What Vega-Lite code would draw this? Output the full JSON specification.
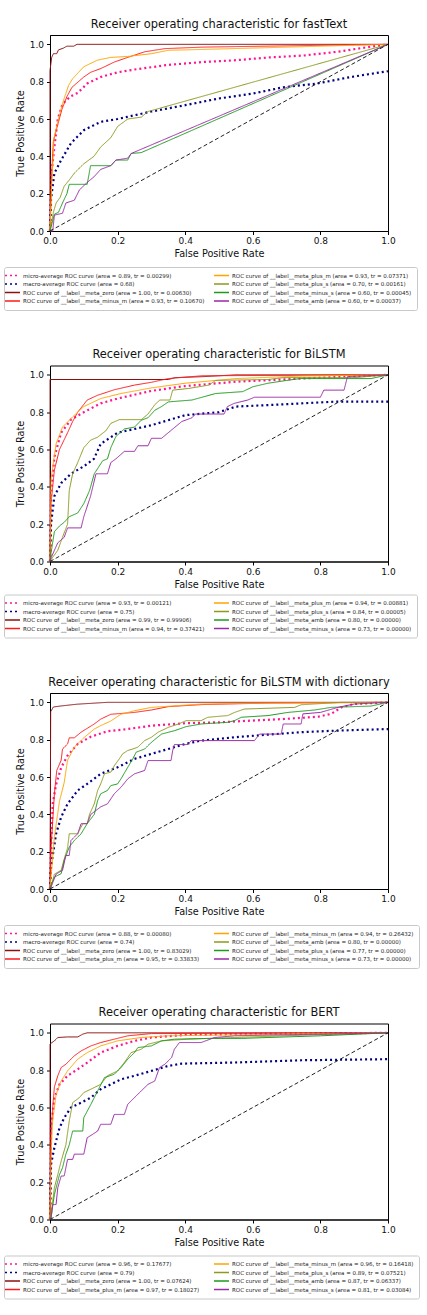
{
  "$schema": "https://vega.github.io/schema/vega-lite/v6.json",
  "padding": {"left": 3, "top": 18, "right": 5, "bottom": 5},
  "background": "white",
  "config": {
    "font": "DejaVu Sans",
    "view": {"stroke": "#000", "strokeWidth": 1},
    "axis": {"grid": false, "labelFlush": false, "domainColor": "#000", "tickColor": "#000", "tickSize": 3.5, "labelFontSize": 9, "labelColor": "#111", "titleFontSize": 9.7, "titleFontWeight": "normal", "titleColor": "#111", "labelFont": "DejaVu Sans", "titleFont": "DejaVu Sans"},
    "title": {"fontSize": 11.4, "fontWeight": "normal", "font": "DejaVu Sans", "color": "#111", "offset": 5},
    "legend": {"title": null, "columns": 2, "gridAlign": "all", "labelFont": "DejaVu Sans", "labelFontSize": 5.5, "labelColor": "#222", "labelLimit": 400, "symbolSize": 25, "symbolType": "M-3,0L3,0", "symbolStrokeWidth": 1.5, "labelOffset": 7, "columnPadding": 6, "rowPadding": 1.5, "padding": 5, "strokeColor": "#c8c8c8", "fillColor": "white", "cornerRadius": 2}
  },
  "datasets": {
    "labels": [
      {"k": "A0", "p": "A", "s": 0, "label": "micro-average ROC curve (area = 0.89, tr = 0.00299)"},
      {"k": "A2", "p": "A", "s": 1, "label": "macro-average ROC curve (area = 0.68)"},
      {"k": "A4", "p": "A", "s": 2, "label": "ROC curve of __label__meta_zero (area = 1.00, tr = 0.00630)"},
      {"k": "A6", "p": "A", "s": 3, "label": "ROC curve of __label__meta_minus_m (area = 0.93, tr = 0.10670)"},
      {"k": "A1", "p": "A", "s": 4, "label": "ROC curve of __label__meta_plus_m (area = 0.93, tr = 0.07371)"},
      {"k": "A3", "p": "A", "s": 5, "label": "ROC curve of __label__meta_plus_s (area = 0.70, tr = 0.00161)"},
      {"k": "A5", "p": "A", "s": 6, "label": "ROC curve of __label__meta_minus_s (area = 0.60, tr = 0.00045)"},
      {"k": "A7", "p": "A", "s": 7, "label": "ROC curve of __label__meta_amb (area = 0.60, tr = 0.00037)"},
      {"k": "B0", "p": "B", "s": 0, "label": "micro-average ROC curve (area = 0.93, tr = 0.00121)"},
      {"k": "B2", "p": "B", "s": 1, "label": "macro-average ROC curve (area = 0.75)"},
      {"k": "B4", "p": "B", "s": 2, "label": "ROC curve of __label__meta_zero (area = 0.99, tr = 0.99906)"},
      {"k": "B6", "p": "B", "s": 3, "label": "ROC curve of __label__meta_minus_m (area = 0.94, tr = 0.37421)"},
      {"k": "B1", "p": "B", "s": 4, "label": "ROC curve of __label__meta_plus_m (area = 0.94, tr = 0.00881)"},
      {"k": "B3", "p": "B", "s": 5, "label": "ROC curve of __label__meta_plus_s (area = 0.84, tr = 0.00005)"},
      {"k": "B5", "p": "B", "s": 6, "label": "ROC curve of __label__meta_amb (area = 0.80, tr = 0.00000)"},
      {"k": "B7", "p": "B", "s": 7, "label": "ROC curve of __label__meta_minus_s (area = 0.73, tr = 0.00000)"},
      {"k": "C0", "p": "C", "s": 0, "label": "micro-average ROC curve (area = 0.88, tr = 0.00080)"},
      {"k": "C2", "p": "C", "s": 1, "label": "macro-average ROC curve (area = 0.74)"},
      {"k": "C4", "p": "C", "s": 2, "label": "ROC curve of __label__meta_zero (area = 1.00, tr = 0.83029)"},
      {"k": "C6", "p": "C", "s": 3, "label": "ROC curve of __label__meta_plus_m (area = 0.95, tr = 0.33833)"},
      {"k": "C1", "p": "C", "s": 4, "label": "ROC curve of __label__meta_minus_m (area = 0.94, tr = 0.26432)"},
      {"k": "C3", "p": "C", "s": 5, "label": "ROC curve of __label__meta_amb (area = 0.80, tr = 0.00000)"},
      {"k": "C5", "p": "C", "s": 6, "label": "ROC curve of __label__meta_plus_s (area = 0.77, tr = 0.00000)"},
      {"k": "C7", "p": "C", "s": 7, "label": "ROC curve of __label__meta_minus_s (area = 0.73, tr = 0.00000)"},
      {"k": "D0", "p": "D", "s": 0, "label": "micro-average ROC curve (area = 0.96, tr = 0.17677)"},
      {"k": "D2", "p": "D", "s": 1, "label": "macro-average ROC curve (area = 0.79)"},
      {"k": "D4", "p": "D", "s": 2, "label": "ROC curve of __label__meta_zero (area = 1.00, tr = 0.07624)"},
      {"k": "D6", "p": "D", "s": 3, "label": "ROC curve of __label__meta_plus_m (area = 0.97, tr = 0.18027)"},
      {"k": "D1", "p": "D", "s": 4, "label": "ROC curve of __label__meta_minus_m (area = 0.96, tr = 0.16418)"},
      {"k": "D3", "p": "D", "s": 5, "label": "ROC curve of __label__meta_plus_s (area = 0.89, tr = 0.07521)"},
      {"k": "D5", "p": "D", "s": 6, "label": "ROC curve of __label__meta_amb (area = 0.87, tr = 0.06337)"},
      {"k": "D7", "p": "D", "s": 7, "label": "ROC curve of __label__meta_minus_s (area = 0.81, tr = 0.03084)"}
    ],
    "diag": [{"x": 0, "y": 0}, {"x": 1, "y": 1}],
    "roc": [
      {"k":"A0","x":0,"y":0},{"k":"A0","x":0.004,"y":0.3},{"k":"A0","x":0.013,"y":0.45},{"k":"A0","x":0.023,"y":0.6},{"k":"A0","x":0.037,"y":0.68},{"k":"A0","x":0.06,"y":0.72},{"k":"A0","x":0.082,"y":0.74},{"k":"A0","x":0.11,"y":0.79},{"k":"A0","x":0.15,"y":0.825},{"k":"A0","x":0.2,"y":0.85},{"k":"A0","x":0.25,"y":0.865},{"k":"A0","x":0.35,"y":0.89},{"k":"A0","x":0.45,"y":0.905},{"k":"A0","x":0.55,"y":0.915},{"k":"A0","x":0.65,"y":0.93},{"k":"A0","x":0.75,"y":0.94},{"k":"A0","x":0.85,"y":0.96},{"k":"A0","x":0.94,"y":0.985},{"k":"A0","x":1,"y":1},
      {"k":"A2","x":0,"y":0},{"k":"A2","x":0.003,"y":0.17},{"k":"A2","x":0.013,"y":0.31},{"k":"A2","x":0.033,"y":0.38},{"k":"A2","x":0.062,"y":0.47},{"k":"A2","x":0.1,"y":0.54},{"k":"A2","x":0.15,"y":0.585},{"k":"A2","x":0.2,"y":0.6},{"k":"A2","x":0.3,"y":0.64},{"k":"A2","x":0.4,"y":0.674},{"k":"A2","x":0.5,"y":0.71},{"k":"A2","x":0.6,"y":0.736},{"k":"A2","x":0.69,"y":0.77},{"k":"A2","x":0.79,"y":0.79},{"k":"A2","x":0.89,"y":0.825},{"k":"A2","x":1,"y":0.856},
      {"k":"A4","x":0,"y":0},{"k":"A4","x":0,"y":0.86},{"k":"A4","x":0.005,"y":0.93},{"k":"A4","x":0.01,"y":0.95},{"k":"A4","x":0.02,"y":0.95},{"k":"A4","x":0.025,"y":0.97},{"k":"A4","x":0.04,"y":0.98},{"k":"A4","x":0.05,"y":0.99},{"k":"A4","x":0.07,"y":0.99},{"k":"A4","x":0.08,"y":1},{"k":"A4","x":1,"y":1},
      {"k":"A6","x":0,"y":0},{"k":"A6","x":0.005,"y":0.3},{"k":"A6","x":0.01,"y":0.48},{"k":"A6","x":0.02,"y":0.55},{"k":"A6","x":0.035,"y":0.65},{"k":"A6","x":0.05,"y":0.72},{"k":"A6","x":0.065,"y":0.77},{"k":"A6","x":0.1,"y":0.825},{"k":"A6","x":0.12,"y":0.85},{"k":"A6","x":0.15,"y":0.87},{"k":"A6","x":0.19,"y":0.905},{"k":"A6","x":0.23,"y":0.93},{"k":"A6","x":0.28,"y":0.96},{"k":"A6","x":0.34,"y":0.977},{"k":"A6","x":0.45,"y":0.985},{"k":"A6","x":1,"y":1},
      {"k":"A1","x":0,"y":0},{"k":"A1","x":0.005,"y":0.25},{"k":"A1","x":0.012,"y":0.5},{"k":"A1","x":0.025,"y":0.6},{"k":"A1","x":0.04,"y":0.7},{"k":"A1","x":0.055,"y":0.78},{"k":"A1","x":0.067,"y":0.816},{"k":"A1","x":0.1,"y":0.88},{"k":"A1","x":0.14,"y":0.915},{"k":"A1","x":0.18,"y":0.93},{"k":"A1","x":0.23,"y":0.935},{"k":"A1","x":0.3,"y":0.95},{"k":"A1","x":0.35,"y":0.968},{"k":"A1","x":0.5,"y":0.975},{"k":"A1","x":0.7,"y":0.985},{"k":"A1","x":1,"y":1},
      {"k":"A3","x":0,"y":0},{"k":"A3","x":0.005,"y":0.05},{"k":"A3","x":0.01,"y":0.1},{"k":"A3","x":0.018,"y":0.15},{"k":"A3","x":0.03,"y":0.18},{"k":"A3","x":0.042,"y":0.24},{"k":"A3","x":0.06,"y":0.28},{"k":"A3","x":0.072,"y":0.31},{"k":"A3","x":0.1,"y":0.36},{"k":"A3","x":0.13,"y":0.4},{"k":"A3","x":0.15,"y":0.45},{"k":"A3","x":0.18,"y":0.5},{"k":"A3","x":0.2,"y":0.56},{"k":"A3","x":0.23,"y":0.6},{"k":"A3","x":0.27,"y":0.61},{"k":"A3","x":0.29,"y":0.64},{"k":"A3","x":1,"y":1},
      {"k":"A5","x":0,"y":0},{"k":"A5","x":0.003,"y":0.02},{"k":"A5","x":0.013,"y":0.09},{"k":"A5","x":0.025,"y":0.1},{"k":"A5","x":0.037,"y":0.15},{"k":"A5","x":0.05,"y":0.2},{"k":"A5","x":0.057,"y":0.25},{"k":"A5","x":0.11,"y":0.25},{"k":"A5","x":0.12,"y":0.35},{"k":"A5","x":0.18,"y":0.35},{"k":"A5","x":0.195,"y":0.38},{"k":"A5","x":0.23,"y":0.38},{"k":"A5","x":0.24,"y":0.415},{"k":"A5","x":0.27,"y":0.42},{"k":"A5","x":1,"y":1},
      {"k":"A7","x":0,"y":0},{"k":"A7","x":0.008,"y":0},{"k":"A7","x":0.013,"y":0.085},{"k":"A7","x":0.037,"y":0.095},{"k":"A7","x":0.047,"y":0.15},{"k":"A7","x":0.072,"y":0.165},{"k":"A7","x":0.087,"y":0.22},{"k":"A7","x":0.11,"y":0.26},{"k":"A7","x":0.13,"y":0.29},{"k":"A7","x":0.15,"y":0.33},{"k":"A7","x":0.18,"y":0.35},{"k":"A7","x":0.195,"y":0.38},{"k":"A7","x":0.23,"y":0.39},{"k":"A7","x":0.24,"y":0.415},{"k":"A7","x":1,"y":1},

      {"k":"B0","x":0,"y":0},{"k":"B0","x":0.003,"y":0.365},{"k":"B0","x":0.013,"y":0.56},{"k":"B0","x":0.033,"y":0.69},{"k":"B0","x":0.062,"y":0.76},{"k":"B0","x":0.1,"y":0.8},{"k":"B0","x":0.15,"y":0.847},{"k":"B0","x":0.2,"y":0.873},{"k":"B0","x":0.3,"y":0.914},{"k":"B0","x":0.4,"y":0.94},{"k":"B0","x":0.55,"y":0.963},{"k":"B0","x":0.74,"y":0.98},{"k":"B0","x":1,"y":1},
      {"k":"B2","x":0,"y":0},{"k":"B2","x":0.003,"y":0.2},{"k":"B2","x":0.013,"y":0.35},{"k":"B2","x":0.033,"y":0.42},{"k":"B2","x":0.062,"y":0.47},{"k":"B2","x":0.1,"y":0.51},{"k":"B2","x":0.13,"y":0.55},{"k":"B2","x":0.15,"y":0.63},{"k":"B2","x":0.2,"y":0.69},{"k":"B2","x":0.25,"y":0.71},{"k":"B2","x":0.3,"y":0.73},{"k":"B2","x":0.35,"y":0.757},{"k":"B2","x":0.4,"y":0.784},{"k":"B2","x":0.5,"y":0.8},{"k":"B2","x":0.55,"y":0.83},{"k":"B2","x":0.645,"y":0.838},{"k":"B2","x":0.84,"y":0.856},{"k":"B2","x":1,"y":0.856},
      {"k":"B4","x":0,"y":0},{"k":"B4","x":0,"y":0.975},{"k":"B4","x":0.35,"y":0.975},{"k":"B4","x":0.37,"y":0.985},{"k":"B4","x":0.45,"y":0.99},{"k":"B4","x":0.55,"y":1},{"k":"B4","x":1,"y":1},
      {"k":"B6","x":0,"y":0},{"k":"B6","x":0.003,"y":0.31},{"k":"B6","x":0.013,"y":0.49},{"k":"B6","x":0.028,"y":0.6},{"k":"B6","x":0.052,"y":0.69},{"k":"B6","x":0.067,"y":0.75},{"k":"B6","x":0.082,"y":0.8},{"k":"B6","x":0.11,"y":0.865},{"k":"B6","x":0.14,"y":0.89},{"k":"B6","x":0.19,"y":0.92},{"k":"B6","x":0.25,"y":0.945},{"k":"B6","x":0.3,"y":0.96},{"k":"B6","x":0.35,"y":0.98},{"k":"B6","x":0.45,"y":0.995},{"k":"B6","x":1,"y":1},
      {"k":"B1","x":0,"y":0},{"k":"B1","x":0.003,"y":0.44},{"k":"B1","x":0.018,"y":0.63},{"k":"B1","x":0.037,"y":0.72},{"k":"B1","x":0.067,"y":0.775},{"k":"B1","x":0.1,"y":0.83},{"k":"B1","x":0.15,"y":0.873},{"k":"B1","x":0.21,"y":0.9},{"k":"B1","x":0.3,"y":0.93},{"k":"B1","x":0.4,"y":0.955},{"k":"B1","x":0.55,"y":0.98},{"k":"B1","x":0.74,"y":0.993},{"k":"B1","x":1,"y":1},
      {"k":"B3","x":0,"y":0},{"k":"B3","x":0.003,"y":0.01},{"k":"B3","x":0.023,"y":0.06},{"k":"B3","x":0.037,"y":0.13},{"k":"B3","x":0.052,"y":0.2},{"k":"B3","x":0.057,"y":0.38},{"k":"B3","x":0.067,"y":0.47},{"k":"B3","x":0.082,"y":0.53},{"k":"B3","x":0.1,"y":0.61},{"k":"B3","x":0.12,"y":0.65},{"k":"B3","x":0.14,"y":0.665},{"k":"B3","x":0.165,"y":0.7},{"k":"B3","x":0.18,"y":0.74},{"k":"B3","x":0.205,"y":0.76},{"k":"B3","x":0.27,"y":0.76},{"k":"B3","x":0.29,"y":0.79},{"k":"B3","x":0.31,"y":0.84},{"k":"B3","x":0.325,"y":0.865},{"k":"B3","x":0.355,"y":0.865},{"k":"B3","x":0.363,"y":0.918},{"k":"B3","x":0.41,"y":0.927},{"k":"B3","x":0.47,"y":0.945},{"k":"B3","x":0.49,"y":0.97},{"k":"B3","x":0.645,"y":0.975},{"k":"B3","x":0.69,"y":0.985},{"k":"B3","x":0.9,"y":0.985},{"k":"B3","x":1,"y":1},
      {"k":"B5","x":0,"y":0},{"k":"B5","x":0.003,"y":0.045},{"k":"B5","x":0.013,"y":0.16},{"k":"B5","x":0.028,"y":0.19},{"k":"B5","x":0.042,"y":0.21},{"k":"B5","x":0.057,"y":0.24},{"k":"B5","x":0.082,"y":0.26},{"k":"B5","x":0.1,"y":0.31},{"k":"B5","x":0.117,"y":0.38},{"k":"B5","x":0.131,"y":0.47},{"k":"B5","x":0.156,"y":0.54},{"k":"B5","x":0.17,"y":0.55},{"k":"B5","x":0.18,"y":0.61},{"k":"B5","x":0.195,"y":0.67},{"k":"B5","x":0.22,"y":0.71},{"k":"B5","x":0.25,"y":0.72},{"k":"B5","x":0.27,"y":0.757},{"k":"B5","x":0.29,"y":0.77},{"k":"B5","x":0.31,"y":0.81},{"k":"B5","x":0.33,"y":0.83},{"k":"B5","x":0.35,"y":0.855},{"k":"B5","x":0.42,"y":0.865},{"k":"B5","x":0.45,"y":0.88},{"k":"B5","x":0.49,"y":0.9},{"k":"B5","x":0.57,"y":0.91},{"k":"B5","x":0.6,"y":0.936},{"k":"B5","x":0.645,"y":0.955},{"k":"B5","x":0.7,"y":0.97},{"k":"B5","x":0.74,"y":0.98},{"k":"B5","x":0.95,"y":0.98},{"k":"B5","x":1,"y":1},
      {"k":"B7","x":0,"y":0},{"k":"B7","x":0.003,"y":0.018},{"k":"B7","x":0.013,"y":0.06},{"k":"B7","x":0.023,"y":0.1},{"k":"B7","x":0.042,"y":0.13},{"k":"B7","x":0.052,"y":0.18},{"k":"B7","x":0.092,"y":0.18},{"k":"B7","x":0.1,"y":0.24},{"k":"B7","x":0.12,"y":0.35},{"k":"B7","x":0.136,"y":0.47},{"k":"B7","x":0.17,"y":0.47},{"k":"B7","x":0.18,"y":0.53},{"k":"B7","x":0.195,"y":0.55},{"k":"B7","x":0.22,"y":0.59},{"k":"B7","x":0.25,"y":0.59},{"k":"B7","x":0.26,"y":0.62},{"k":"B7","x":0.29,"y":0.62},{"k":"B7","x":0.3,"y":0.66},{"k":"B7","x":0.33,"y":0.66},{"k":"B7","x":0.35,"y":0.69},{"k":"B7","x":0.37,"y":0.72},{"k":"B7","x":0.39,"y":0.75},{"k":"B7","x":0.42,"y":0.77},{"k":"B7","x":0.43,"y":0.79},{"k":"B7","x":0.515,"y":0.79},{"k":"B7","x":0.525,"y":0.83},{"k":"B7","x":0.545,"y":0.847},{"k":"B7","x":0.585,"y":0.865},{"k":"B7","x":0.605,"y":0.88},{"k":"B7","x":0.8,"y":0.88},{"k":"B7","x":0.81,"y":0.918},{"k":"B7","x":0.87,"y":0.918},{"k":"B7","x":0.88,"y":0.99},{"k":"B7","x":1,"y":1},

      {"k":"C0","x":0,"y":0},{"k":"C0","x":0.003,"y":0.22},{"k":"C0","x":0.008,"y":0.456},{"k":"C0","x":0.018,"y":0.56},{"k":"C0","x":0.033,"y":0.65},{"k":"C0","x":0.052,"y":0.715},{"k":"C0","x":0.082,"y":0.777},{"k":"C0","x":0.121,"y":0.816},{"k":"C0","x":0.17,"y":0.845},{"k":"C0","x":0.23,"y":0.857},{"k":"C0","x":0.3,"y":0.875},{"k":"C0","x":0.4,"y":0.888},{"k":"C0","x":0.5,"y":0.893},{"k":"C0","x":0.595,"y":0.902},{"k":"C0","x":0.694,"y":0.911},{"k":"C0","x":0.793,"y":0.923},{"k":"C0","x":0.832,"y":0.938},{"k":"C0","x":0.862,"y":0.973},{"k":"C0","x":0.9,"y":0.991},{"k":"C0","x":1,"y":1},
      {"k":"C2","x":0,"y":0},{"k":"C2","x":0.003,"y":0.118},{"k":"C2","x":0.018,"y":0.296},{"k":"C2","x":0.033,"y":0.385},{"k":"C2","x":0.052,"y":0.456},{"k":"C2","x":0.082,"y":0.528},{"k":"C2","x":0.11,"y":0.563},{"k":"C2","x":0.15,"y":0.617},{"k":"C2","x":0.2,"y":0.652},{"k":"C2","x":0.25,"y":0.697},{"k":"C2","x":0.3,"y":0.724},{"k":"C2","x":0.35,"y":0.75},{"k":"C2","x":0.4,"y":0.777},{"k":"C2","x":0.447,"y":0.795},{"k":"C2","x":0.497,"y":0.804},{"k":"C2","x":0.546,"y":0.813},{"k":"C2","x":0.645,"y":0.827},{"k":"C2","x":0.743,"y":0.84},{"k":"C2","x":0.842,"y":0.848},{"k":"C2","x":1,"y":0.857},
      {"k":"C4","x":0,"y":0},{"k":"C4","x":0.002,"y":0.95},{"k":"C4","x":0.01,"y":0.975},{"k":"C4","x":0.03,"y":0.98},{"k":"C4","x":0.08,"y":0.99},{"k":"C4","x":0.17,"y":1},{"k":"C4","x":1,"y":1},
      {"k":"C6","x":0,"y":0},{"k":"C6","x":0.003,"y":0.22},{"k":"C6","x":0.013,"y":0.51},{"k":"C6","x":0.02,"y":0.635},{"k":"C6","x":0.033,"y":0.69},{"k":"C6","x":0.037,"y":0.75},{"k":"C6","x":0.052,"y":0.777},{"k":"C6","x":0.057,"y":0.81},{"k":"C6","x":0.072,"y":0.81},{"k":"C6","x":0.092,"y":0.84},{"k":"C6","x":0.107,"y":0.857},{"k":"C6","x":0.131,"y":0.884},{"k":"C6","x":0.15,"y":0.91},{"k":"C6","x":0.18,"y":0.936},{"k":"C6","x":0.25,"y":0.946},{"k":"C6","x":0.3,"y":0.959},{"k":"C6","x":0.35,"y":0.977},{"k":"C6","x":0.45,"y":0.988},{"k":"C6","x":0.645,"y":0.996},{"k":"C6","x":1,"y":1},
      {"k":"C1","x":0,"y":0},{"k":"C1","x":0.003,"y":0.064},{"k":"C1","x":0.013,"y":0.28},{"k":"C1","x":0.028,"y":0.47},{"k":"C1","x":0.042,"y":0.57},{"k":"C1","x":0.052,"y":0.69},{"k":"C1","x":0.072,"y":0.76},{"k":"C1","x":0.1,"y":0.81},{"k":"C1","x":0.131,"y":0.857},{"k":"C1","x":0.15,"y":0.875},{"k":"C1","x":0.18,"y":0.9},{"k":"C1","x":0.21,"y":0.936},{"k":"C1","x":0.25,"y":0.955},{"k":"C1","x":0.3,"y":0.973},{"k":"C1","x":0.45,"y":0.991},{"k":"C1","x":0.645,"y":0.996},{"k":"C1","x":1,"y":1},
      {"k":"C3","x":0,"y":0},{"k":"C3","x":0.003,"y":0.01},{"k":"C3","x":0.013,"y":0.08},{"k":"C3","x":0.033,"y":0.1},{"k":"C3","x":0.042,"y":0.16},{"k":"C3","x":0.052,"y":0.22},{"k":"C3","x":0.057,"y":0.296},{"k":"C3","x":0.082,"y":0.296},{"k":"C3","x":0.097,"y":0.35},{"k":"C3","x":0.11,"y":0.35},{"k":"C3","x":0.117,"y":0.4},{"k":"C3","x":0.131,"y":0.456},{"k":"C3","x":0.141,"y":0.528},{"k":"C3","x":0.15,"y":0.563},{"k":"C3","x":0.161,"y":0.617},{"k":"C3","x":0.18,"y":0.626},{"k":"C3","x":0.19,"y":0.66},{"k":"C3","x":0.205,"y":0.697},{"k":"C3","x":0.215,"y":0.724},{"k":"C3","x":0.23,"y":0.742},{"k":"C3","x":0.245,"y":0.75},{"k":"C3","x":0.26,"y":0.76},{"k":"C3","x":0.28,"y":0.795},{"k":"C3","x":0.3,"y":0.813},{"k":"C3","x":0.32,"y":0.84},{"k":"C3","x":0.35,"y":0.866},{"k":"C3","x":0.38,"y":0.884},{"k":"C3","x":0.403,"y":0.902},{"k":"C3","x":0.447,"y":0.902},{"k":"C3","x":0.467,"y":0.92},{"k":"C3","x":0.526,"y":0.929},{"k":"C3","x":0.546,"y":0.946},{"k":"C3","x":0.575,"y":0.964},{"k":"C3","x":0.724,"y":0.973},{"k":"C3","x":0.743,"y":0.987},{"k":"C3","x":0.862,"y":1},{"k":"C3","x":1,"y":1},
      {"k":"C5","x":0,"y":0},{"k":"C5","x":0.003,"y":0.02},{"k":"C5","x":0.013,"y":0.064},{"k":"C5","x":0.033,"y":0.082},{"k":"C5","x":0.042,"y":0.153},{"k":"C5","x":0.057,"y":0.225},{"k":"C5","x":0.072,"y":0.26},{"k":"C5","x":0.092,"y":0.296},{"k":"C5","x":0.11,"y":0.35},{"k":"C5","x":0.131,"y":0.4},{"k":"C5","x":0.141,"y":0.474},{"k":"C5","x":0.15,"y":0.51},{"k":"C5","x":0.17,"y":0.528},{"k":"C5","x":0.18,"y":0.554},{"k":"C5","x":0.2,"y":0.563},{"k":"C5","x":0.21,"y":0.59},{"k":"C5","x":0.23,"y":0.652},{"k":"C5","x":0.245,"y":0.697},{"k":"C5","x":0.255,"y":0.733},{"k":"C5","x":0.28,"y":0.75},{"k":"C5","x":0.3,"y":0.786},{"k":"C5","x":0.33,"y":0.83},{"k":"C5","x":0.368,"y":0.848},{"k":"C5","x":0.403,"y":0.87},{"k":"C5","x":0.447,"y":0.884},{"k":"C5","x":0.526,"y":0.893},{"k":"C5","x":0.546,"y":0.902},{"k":"C5","x":0.566,"y":0.92},{"k":"C5","x":0.645,"y":0.929},{"k":"C5","x":0.704,"y":0.946},{"k":"C5","x":0.783,"y":0.959},{"k":"C5","x":0.832,"y":0.973},{"k":"C5","x":0.95,"y":0.98},{"k":"C5","x":1,"y":1},
      {"k":"C7","x":0,"y":0},{"k":"C7","x":0.003,"y":0.01},{"k":"C7","x":0.018,"y":0.08},{"k":"C7","x":0.037,"y":0.1},{"k":"C7","x":0.047,"y":0.18},{"k":"C7","x":0.057,"y":0.18},{"k":"C7","x":0.062,"y":0.26},{"k":"C7","x":0.082,"y":0.296},{"k":"C7","x":0.092,"y":0.35},{"k":"C7","x":0.11,"y":0.35},{"k":"C7","x":0.121,"y":0.4},{"k":"C7","x":0.15,"y":0.44},{"k":"C7","x":0.17,"y":0.456},{"k":"C7","x":0.19,"y":0.51},{"k":"C7","x":0.21,"y":0.545},{"k":"C7","x":0.23,"y":0.59},{"k":"C7","x":0.25,"y":0.617},{"k":"C7","x":0.28,"y":0.635},{"k":"C7","x":0.29,"y":0.688},{"k":"C7","x":0.358,"y":0.688},{"k":"C7","x":0.363,"y":0.742},{"k":"C7","x":0.368,"y":0.774},{"k":"C7","x":0.408,"y":0.774},{"k":"C7","x":0.418,"y":0.795},{"k":"C7","x":0.605,"y":0.795},{"k":"C7","x":0.62,"y":0.83},{"k":"C7","x":0.684,"y":0.83},{"k":"C7","x":0.69,"y":0.884},{"k":"C7","x":0.743,"y":0.884},{"k":"C7","x":0.748,"y":0.938},{"k":"C7","x":0.8,"y":0.946},{"k":"C7","x":0.852,"y":0.973},{"k":"C7","x":0.9,"y":0.991},{"k":"C7","x":1,"y":1},

      {"k":"D0","x":0,"y":0},{"k":"D0","x":0.003,"y":0.49},{"k":"D0","x":0.013,"y":0.65},{"k":"D0","x":0.028,"y":0.724},{"k":"D0","x":0.052,"y":0.77},{"k":"D0","x":0.082,"y":0.805},{"k":"D0","x":0.11,"y":0.84},{"k":"D0","x":0.15,"y":0.894},{"k":"D0","x":0.2,"y":0.93},{"k":"D0","x":0.25,"y":0.957},{"k":"D0","x":0.3,"y":0.975},{"k":"D0","x":0.4,"y":0.989},{"k":"D0","x":0.546,"y":0.993},{"k":"D0","x":0.743,"y":0.996},{"k":"D0","x":1,"y":1},
      {"k":"D2","x":0,"y":0},{"k":"D2","x":0.003,"y":0.295},{"k":"D2","x":0.013,"y":0.385},{"k":"D2","x":0.028,"y":0.49},{"k":"D2","x":0.042,"y":0.545},{"k":"D2","x":0.062,"y":0.6},{"k":"D2","x":0.092,"y":0.626},{"k":"D2","x":0.121,"y":0.653},{"k":"D2","x":0.15,"y":0.698},{"k":"D2","x":0.18,"y":0.724},{"k":"D2","x":0.21,"y":0.751},{"k":"D2","x":0.25,"y":0.77},{"k":"D2","x":0.3,"y":0.796},{"k":"D2","x":0.35,"y":0.823},{"k":"D2","x":0.39,"y":0.835},{"k":"D2","x":0.546,"y":0.841},{"k":"D2","x":0.743,"y":0.853},{"k":"D2","x":1,"y":0.859},
      {"k":"D4","x":0,"y":0},{"k":"D4","x":0,"y":0.94},{"k":"D4","x":0.013,"y":0.957},{"k":"D4","x":0.023,"y":0.975},{"k":"D4","x":0.052,"y":0.978},{"k":"D4","x":0.082,"y":0.978},{"k":"D4","x":0.097,"y":0.993},{"k":"D4","x":0.11,"y":1},{"k":"D4","x":1,"y":1},
      {"k":"D6","x":0,"y":0},{"k":"D6","x":0.003,"y":0.44},{"k":"D6","x":0.008,"y":0.6},{"k":"D6","x":0.013,"y":0.71},{"k":"D6","x":0.023,"y":0.77},{"k":"D6","x":0.033,"y":0.814},{"k":"D6","x":0.047,"y":0.832},{"k":"D6","x":0.072,"y":0.877},{"k":"D6","x":0.092,"y":0.903},{"k":"D6","x":0.121,"y":0.93},{"k":"D6","x":0.15,"y":0.948},{"k":"D6","x":0.19,"y":0.966},{"k":"D6","x":0.23,"y":0.984},{"k":"D6","x":0.3,"y":0.996},{"k":"D6","x":1,"y":1},
      {"k":"D1","x":0,"y":0},{"k":"D1","x":0.003,"y":0.35},{"k":"D1","x":0.008,"y":0.53},{"k":"D1","x":0.018,"y":0.67},{"k":"D1","x":0.033,"y":0.742},{"k":"D1","x":0.052,"y":0.796},{"k":"D1","x":0.082,"y":0.859},{"k":"D1","x":0.11,"y":0.894},{"k":"D1","x":0.15,"y":0.93},{"k":"D1","x":0.2,"y":0.957},{"k":"D1","x":0.27,"y":0.975},{"k":"D1","x":0.35,"y":0.984},{"k":"D1","x":0.546,"y":0.989},{"k":"D1","x":0.842,"y":0.996},{"k":"D1","x":1,"y":1},
      {"k":"D3","x":0,"y":0},{"k":"D3","x":0.003,"y":0.027},{"k":"D3","x":0.013,"y":0.17},{"k":"D3","x":0.023,"y":0.24},{"k":"D3","x":0.033,"y":0.313},{"k":"D3","x":0.047,"y":0.4},{"k":"D3","x":0.057,"y":0.528},{"k":"D3","x":0.067,"y":0.626},{"k":"D3","x":0.087,"y":0.653},{"k":"D3","x":0.1,"y":0.68},{"k":"D3","x":0.131,"y":0.707},{"k":"D3","x":0.15,"y":0.724},{"k":"D3","x":0.17,"y":0.77},{"k":"D3","x":0.2,"y":0.796},{"k":"D3","x":0.22,"y":0.841},{"k":"D3","x":0.24,"y":0.894},{"k":"D3","x":0.27,"y":0.912},{"k":"D3","x":0.29,"y":0.939},{"k":"D3","x":0.33,"y":0.957},{"k":"D3","x":0.408,"y":0.966},{"k":"D3","x":0.546,"y":0.975},{"k":"D3","x":0.694,"y":0.984},{"k":"D3","x":0.842,"y":0.993},{"k":"D3","x":1,"y":1},
      {"k":"D5","x":0,"y":0},{"k":"D5","x":0.003,"y":0.01},{"k":"D5","x":0.013,"y":0.134},{"k":"D5","x":0.028,"y":0.24},{"k":"D5","x":0.037,"y":0.277},{"k":"D5","x":0.047,"y":0.35},{"k":"D5","x":0.057,"y":0.4},{"k":"D5","x":0.067,"y":0.474},{"k":"D5","x":0.097,"y":0.474},{"k":"D5","x":0.1,"y":0.546},{"k":"D5","x":0.121,"y":0.617},{"k":"D5","x":0.141,"y":0.689},{"k":"D5","x":0.161,"y":0.76},{"k":"D5","x":0.19,"y":0.778},{"k":"D5","x":0.21,"y":0.814},{"k":"D5","x":0.23,"y":0.859},{"k":"D5","x":0.25,"y":0.894},{"k":"D5","x":0.26,"y":0.921},{"k":"D5","x":0.3,"y":0.93},{"k":"D5","x":0.33,"y":0.957},{"k":"D5","x":0.368,"y":0.966},{"k":"D5","x":0.467,"y":0.97},{"k":"D5","x":0.566,"y":0.97},{"k":"D5","x":0.645,"y":0.975},{"k":"D5","x":0.8,"y":0.984},{"k":"D5","x":1,"y":1},
      {"k":"D7","x":0,"y":0},{"k":"D7","x":0.003,"y":0},{"k":"D7","x":0.008,"y":0.08},{"k":"D7","x":0.018,"y":0.08},{"k":"D7","x":0.023,"y":0.17},{"k":"D7","x":0.033,"y":0.233},{"k":"D7","x":0.042,"y":0.233},{"k":"D7","x":0.052,"y":0.322},{"k":"D7","x":0.067,"y":0.322},{"k":"D7","x":0.072,"y":0.35},{"k":"D7","x":0.1,"y":0.35},{"k":"D7","x":0.11,"y":0.438},{"k":"D7","x":0.126,"y":0.456},{"k":"D7","x":0.141,"y":0.474},{"k":"D7","x":0.15,"y":0.51},{"k":"D7","x":0.18,"y":0.51},{"k":"D7","x":0.19,"y":0.563},{"k":"D7","x":0.22,"y":0.563},{"k":"D7","x":0.23,"y":0.617},{"k":"D7","x":0.25,"y":0.653},{"k":"D7","x":0.27,"y":0.689},{"k":"D7","x":0.29,"y":0.724},{"k":"D7","x":0.31,"y":0.742},{"k":"D7","x":0.324,"y":0.814},{"k":"D7","x":0.34,"y":0.832},{"k":"D7","x":0.36,"y":0.868},{"k":"D7","x":0.368,"y":0.912},{"k":"D7","x":0.383,"y":0.948},{"k":"D7","x":0.447,"y":0.948},{"k":"D7","x":0.487,"y":0.975},{"k":"D7","x":0.546,"y":0.984},{"k":"D7","x":1,"y":1}
    ]
  },
  "spacing": 37.5,
  "resolve": {"scale": {"color": "independent", "strokeDash": "independent"}},
  "vconcat": [
    {
      "title": "Receiver operating characteristic for fastText",
      "width": 338, "height": 196,
      "encoding": {
        "x": {"field": "x", "type": "quantitative", "scale": {"domain": [0, 1], "nice": false}, "axis": {"title": "False Positive Rate", "values": [0, 0.2, 0.4, 0.6, 0.8, 1], "format": ".1f", "labelPadding": 2, "titlePadding": 3}},
        "y": {"field": "y", "type": "quantitative", "scale": {"domain": [0, 1.05], "nice": false}, "axis": {"title": "True Positive Rate", "values": [0, 0.2, 0.4, 0.6, 0.8, 1], "format": ".1f", "labelPadding": 3, "titlePadding": 4}}
      },
      "layer": [
        {
          "data": {"name": "roc"},
          "transform": [
            {"lookup": "k", "from": {"data": {"name": "labels"}, "key": "k", "fields": ["label", "s", "p"]}},
            {"filter": "datum.p == 'A' && datum.s < 2"}
          ],
          "mark": {"type": "line", "strokeWidth": 2.2},
          "encoding": {
            "order": {"value": null},
            "color": {"field": "label", "type": "nominal", "sort": {"field": "s", "op": "min"}, "scale": {"range": ["#ff1493", "#000080", "#8b1010", "#ff1a1a", "#ffa500", "#8c9a1e", "#1e9a1e", "#9a2aa8"]}, "legend": {"orient": "none", "legendX": -46, "legendY": 232}},
            "strokeDash": {"field": "label", "type": "nominal", "sort": {"field": "s", "op": "min"}, "scale": {"range": [[2, 3], [2, 3], [1, 0], [1, 0], [1, 0], [1, 0], [1, 0], [1, 0]]}, "legend": {"orient": "none", "legendX": -46, "legendY": 232}}
          }
        },
        {
          "data": {"name": "roc"},
          "transform": [
            {"lookup": "k", "from": {"data": {"name": "labels"}, "key": "k", "fields": ["label", "s", "p"]}},
            {"filter": "datum.p == 'A' && datum.s >= 2"}
          ],
          "mark": {"type": "line", "strokeWidth": 1},
          "encoding": {
            "order": {"value": null},
            "color": {"field": "label", "type": "nominal", "sort": {"field": "s", "op": "min"}},
            "strokeDash": {"field": "label", "type": "nominal", "sort": {"field": "s", "op": "min"}}
          }
        },
        {"data": {"name": "diag"}, "mark": {"type": "line", "color": "#222", "strokeWidth": 1, "strokeDash": [4, 2.5]}, "encoding": {}}
      ]
    },
    {
      "title": "Receiver operating characteristic for BiLSTM",
      "width": 338, "height": 196,
      "encoding": {
        "x": {"field": "x", "type": "quantitative", "scale": {"domain": [0, 1], "nice": false}, "axis": {"title": "False Positive Rate", "values": [0, 0.2, 0.4, 0.6, 0.8, 1], "format": ".1f", "labelPadding": 2, "titlePadding": 3}},
        "y": {"field": "y", "type": "quantitative", "scale": {"domain": [0, 1.05], "nice": false}, "axis": {"title": "True Positive Rate", "values": [0, 0.2, 0.4, 0.6, 0.8, 1], "format": ".1f", "labelPadding": 3, "titlePadding": 4}}
      },
      "layer": [
        {
          "data": {"name": "roc"},
          "transform": [
            {"lookup": "k", "from": {"data": {"name": "labels"}, "key": "k", "fields": ["label", "s", "p"]}},
            {"filter": "datum.p == 'B' && datum.s < 2"}
          ],
          "mark": {"type": "line", "strokeWidth": 2.2},
          "encoding": {
            "order": {"value": null},
            "color": {"field": "label", "type": "nominal", "sort": {"field": "s", "op": "min"}, "scale": {"range": ["#ff1493", "#000080", "#8b1010", "#ff1a1a", "#ffa500", "#8c9a1e", "#1e9a1e", "#9a2aa8"]}, "legend": {"orient": "none", "legendX": -46, "legendY": 229}},
            "strokeDash": {"field": "label", "type": "nominal", "sort": {"field": "s", "op": "min"}, "scale": {"range": [[2, 3], [2, 3], [1, 0], [1, 0], [1, 0], [1, 0], [1, 0], [1, 0]]}, "legend": {"orient": "none", "legendX": -46, "legendY": 229}}
          }
        },
        {
          "data": {"name": "roc"},
          "transform": [
            {"lookup": "k", "from": {"data": {"name": "labels"}, "key": "k", "fields": ["label", "s", "p"]}},
            {"filter": "datum.p == 'B' && datum.s >= 2"}
          ],
          "mark": {"type": "line", "strokeWidth": 1},
          "encoding": {
            "order": {"value": null},
            "color": {"field": "label", "type": "nominal", "sort": {"field": "s", "op": "min"}},
            "strokeDash": {"field": "label", "type": "nominal", "sort": {"field": "s", "op": "min"}}
          }
        },
        {"data": {"name": "diag"}, "mark": {"type": "line", "color": "#222", "strokeWidth": 1, "strokeDash": [4, 2.5]}, "encoding": {}}
      ]
    },
    {
      "title": "Receiver operating characteristic for BiLSTM with dictionary",
      "width": 338, "height": 196,
      "encoding": {
        "x": {"field": "x", "type": "quantitative", "scale": {"domain": [0, 1], "nice": false}, "axis": {"title": "False Positive Rate", "values": [0, 0.2, 0.4, 0.6, 0.8, 1], "format": ".1f", "labelPadding": 2, "titlePadding": 3}},
        "y": {"field": "y", "type": "quantitative", "scale": {"domain": [0, 1.05], "nice": false}, "axis": {"title": "True Positive Rate", "values": [0, 0.2, 0.4, 0.6, 0.8, 1], "format": ".1f", "labelPadding": 3, "titlePadding": 4}}
      },
      "layer": [
        {
          "data": {"name": "roc"},
          "transform": [
            {"lookup": "k", "from": {"data": {"name": "labels"}, "key": "k", "fields": ["label", "s", "p"]}},
            {"filter": "datum.p == 'C' && datum.s < 2"}
          ],
          "mark": {"type": "line", "strokeWidth": 2.2},
          "encoding": {
            "order": {"value": null},
            "color": {"field": "label", "type": "nominal", "sort": {"field": "s", "op": "min"}, "scale": {"range": ["#ff1493", "#000080", "#8b1010", "#ff1a1a", "#ffa500", "#8c9a1e", "#1e9a1e", "#9a2aa8"]}, "legend": {"orient": "none", "legendX": -46, "legendY": 232}},
            "strokeDash": {"field": "label", "type": "nominal", "sort": {"field": "s", "op": "min"}, "scale": {"range": [[2, 3], [2, 3], [1, 0], [1, 0], [1, 0], [1, 0], [1, 0], [1, 0]]}, "legend": {"orient": "none", "legendX": -46, "legendY": 232}}
          }
        },
        {
          "data": {"name": "roc"},
          "transform": [
            {"lookup": "k", "from": {"data": {"name": "labels"}, "key": "k", "fields": ["label", "s", "p"]}},
            {"filter": "datum.p == 'C' && datum.s >= 2"}
          ],
          "mark": {"type": "line", "strokeWidth": 1},
          "encoding": {
            "order": {"value": null},
            "color": {"field": "label", "type": "nominal", "sort": {"field": "s", "op": "min"}},
            "strokeDash": {"field": "label", "type": "nominal", "sort": {"field": "s", "op": "min"}}
          }
        },
        {"data": {"name": "diag"}, "mark": {"type": "line", "color": "#222", "strokeWidth": 1, "strokeDash": [4, 2.5]}, "encoding": {}}
      ]
    },
    {
      "title": "Receiver operating characteristic for BERT",
      "width": 338, "height": 196,
      "encoding": {
        "x": {"field": "x", "type": "quantitative", "scale": {"domain": [0, 1], "nice": false}, "axis": {"title": "False Positive Rate", "values": [0, 0.2, 0.4, 0.6, 0.8, 1], "format": ".1f", "labelPadding": 2, "titlePadding": 3}},
        "y": {"field": "y", "type": "quantitative", "scale": {"domain": [0, 1.05], "nice": false}, "axis": {"title": "True Positive Rate", "values": [0, 0.2, 0.4, 0.6, 0.8, 1], "format": ".1f", "labelPadding": 3, "titlePadding": 4}}
      },
      "layer": [
        {
          "data": {"name": "roc"},
          "transform": [
            {"lookup": "k", "from": {"data": {"name": "labels"}, "key": "k", "fields": ["label", "s", "p"]}},
            {"filter": "datum.p == 'D' && datum.s < 2"}
          ],
          "mark": {"type": "line", "strokeWidth": 2.2},
          "encoding": {
            "order": {"value": null},
            "color": {"field": "label", "type": "nominal", "sort": {"field": "s", "op": "min"}, "scale": {"range": ["#ff1493", "#000080", "#8b1010", "#ff1a1a", "#ffa500", "#8c9a1e", "#1e9a1e", "#9a2aa8"]}, "legend": {"orient": "none", "legendX": -46, "legendY": 232}},
            "strokeDash": {"field": "label", "type": "nominal", "sort": {"field": "s", "op": "min"}, "scale": {"range": [[2, 3], [2, 3], [1, 0], [1, 0], [1, 0], [1, 0], [1, 0], [1, 0]]}, "legend": {"orient": "none", "legendX": -46, "legendY": 232}}
          }
        },
        {
          "data": {"name": "roc"},
          "transform": [
            {"lookup": "k", "from": {"data": {"name": "labels"}, "key": "k", "fields": ["label", "s", "p"]}},
            {"filter": "datum.p == 'D' && datum.s >= 2"}
          ],
          "mark": {"type": "line", "strokeWidth": 1},
          "encoding": {
            "order": {"value": null},
            "color": {"field": "label", "type": "nominal", "sort": {"field": "s", "op": "min"}},
            "strokeDash": {"field": "label", "type": "nominal", "sort": {"field": "s", "op": "min"}}
          }
        },
        {"data": {"name": "diag"}, "mark": {"type": "line", "color": "#222", "strokeWidth": 1, "strokeDash": [4, 2.5]}, "encoding": {}}
      ]
    }
  ]
}
